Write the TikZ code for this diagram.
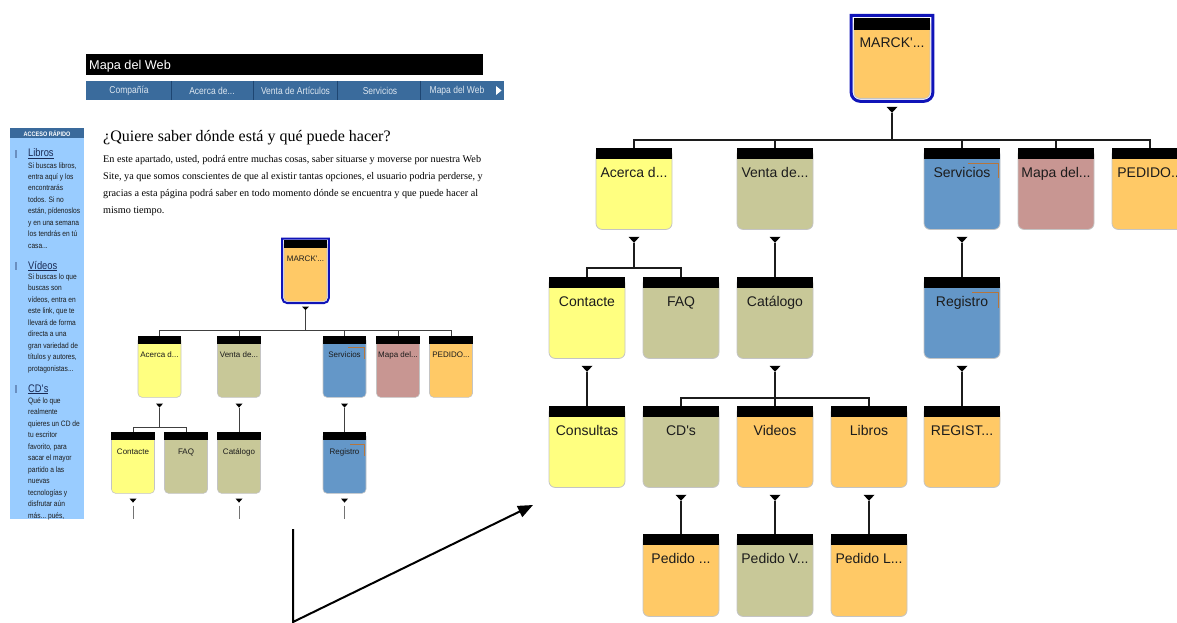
\documentclass[tikz,border=0pt]{standalone}
\usepackage{fontspec}
\setmainfont{Liberation Sans}
\newfontfamily\serifface{Liberation Serif}
\newfontfamily\narrowface[FakeStretch=0.85]{Liberation Sans}
\usetikzlibrary{calc,arrows.meta}

\definecolor{ink}{HTML}{1C1C1C}
\definecolor{boxEdge}{HTML}{C4C4C4}
\definecolor{cYellow}{HTML}{FFFF80}
\definecolor{cKhaki}{HTML}{C8C898}
\definecolor{cBlue}{HTML}{6497C8}
\definecolor{cRose}{HTML}{C89692}
\definecolor{cOrange}{HTML}{FFC966}
\definecolor{frameBlue}{HTML}{1014B8}
\definecolor{tagOrange}{HTML}{B5753C}
\definecolor{navBlue}{HTML}{3A6B9C}
\definecolor{navLine}{HTML}{1E4672}
\definecolor{navText}{HTML}{DCE6F0}
\definecolor{sideHead}{HTML}{3A6A9C}
\definecolor{sideBody}{HTML}{99CCFF}
\definecolor{sideMark}{HTML}{6A8FC0}
\definecolor{sideLink}{HTML}{1A2B55}

% three dots, kept out of the reach of \foreach's range syntax
\newcommand\threedots{...}

% black drop marker under a node; defines <node>-tip at its point
\newcommand\droptri[4]{% node, gap, half width, height
  \coordinate (#1-tip) at ($(#1.south)+(0,#2+#4)$);
  \fill[black] ($(#1.south)+(-#3,#2)$) -- ($(#1.south)+(#3,#2)$) -- (#1-tip) -- cycle;}

\begin{document}
\begin{tikzpicture}[x=1pt,y=-1pt,
  every node/.style={inner sep=0pt},
  big/.style={draw=boxEdge, line width=0.8pt, rounded corners=6pt,
    minimum width=76pt, anchor=north, font=\fontsize{14}{16}\selectfont,
    text=ink, text height=29pt, text depth=52pt},
  small/.style={draw=boxEdge, line width=0.6pt, rounded corners=4pt,
    minimum width=43pt, anchor=north, font=\fontsize{8}{9}\selectfont,
    text=ink, text height=21pt, text depth=40pt},
  bigwire/.style={draw=ink, line width=1.1pt},
  swire/.style={draw=black!75, line width=0.8pt},
  tag/.style={draw=tagOrange, line width=1pt},
  side/.style={anchor=base west, font=\narrowface\fontsize{7.8}{9}\selectfont, text=ink},
  sidehead/.style={anchor=base west, font=\narrowface\fontsize{11}{12}\selectfont, text=sideLink},
  para/.style={anchor=base west, font=\serifface\fontsize{10.2}{12}\selectfont, text=black},
  navitem/.style={font=\narrowface\fontsize{10}{11}\selectfont, text=navText}
]
\useasboundingbox (0,0) rectangle (1177,623);
\clip (0,0) rectangle (1177,623);

% ---------- page header and menu ----------
\fill[black] (86,54) rectangle (483,75);
\node[anchor=base west, font=\fontsize{12.7}{14}\selectfont, text=white] (title) at (89,70) {Mapa del Web};
\fill[navBlue] (86,81) rectangle (504,100);
\foreach \x in {171,253,337,420} \draw[navLine, line width=0.8pt] (\x,81) -- (\x,100);
\node[navitem] (nav-1) at (129,91) {Compañía};
\node[navitem] (nav-2) at (212,91) {Acerca de...};
\node[navitem] (nav-3) at (295.5,91) {Venta de Artículos};
\node[navitem] (nav-4) at (380,91) {Servicios};
\node[navitem] (nav-5) at (457,91) {Mapa del Web};
\fill[white] (496,86) -- (496,95) -- (501.5,90.5) -- cycle;

% ---------- quick access column ----------
\fill[sideBody] (10,138) rectangle (84,519);
\fill[sideHead] (10,128) rectangle (84,138);
\node[font=\narrowface\bfseries\fontsize{6.5}{7}\selectfont, text=white] (side-title) at (47,133.5) {ACCESO RÁPIDO};

\fill[sideMark] (15,150) rectangle (17,158);
\node[sidehead] (side-libros) at (28,157) {\underline{Libros}};
\foreach \t [count=\i] in {{Si buscas libros,},{entra aquí y los},{encontrarás},{todos. Si no},{están, pídenoslos},{y en una semana},{los tendrás en tú},{casa\threedots}}
  \node[side] (libros-\i) at (28,{168+11.45*(\i-1)}) {\t};

\fill[sideMark] (15,262) rectangle (17,270);
\node[sidehead] (side-videos) at (28,269) {\underline{Vídeos}};
\foreach \t [count=\i] in {{Si buscas lo que},{buscas son},{vídeos, entra en},{este link, que te},{llevará de forma},{directa a una},{gran variedad de},{títulos y autores,},{protagonistas\threedots}}
  \node[side] (videos-\i) at (28,{279.5+11.45*(\i-1)}) {\t};

\fill[sideMark] (15,385) rectangle (17,393);
\node[sidehead] (side-cds) at (28,392) {\underline{CD\textquotesingle s}};
\foreach \t [count=\i] in {{Qué lo que},{realmente},{quieres un CD de},{tu escritor},{favorito, para},{sacar el mayor},{partido a las},{nuevas},{tecnologías y},{disfrutar aún},{más\threedots\ pués,}}
  \node[side] (cds-\i) at (28,{403.5+11.45*(\i-1)}) {\t};

% ---------- introduction ----------
\node[anchor=base west, font=\serifface\fontsize{16}{18}\selectfont] (question) at (103,142) {¿Quiere saber dónde está y qué puede hacer?};
\node[para] (para-1) at (103,162) {En este apartado, usted, podrá entre muchas cosas, saber situarse y moverse por nuestra Web};
\node[para] (para-2) at (103,179) {Site, ya que somos conscientes de que al existir tantas opciones, el usuario podria perderse, y};
\node[para] (para-3) at (103,196) {gracias a esta página podrá saber en todo momento dónde se encuentra y que puede hacer al};
\node[para] (para-4) at (103,213) {mismo tiempo.};

% ---------- small site tree ----------
\node[small, fill=cOrange] (sroot) at (305.5,240) {MARCK\textquotesingle...};
\node[small, fill=cYellow] (s-acerca) at (159.5,336) {Acerca d...};
\node[small, fill=cKhaki] (s-venta) at (239,336) {Venta de...};
\node[small, fill=cBlue] (s-servicios) at (344.5,336) {Servicios};
\node[small, fill=cRose] (s-mapa) at (398,336) {Mapa del...};
\node[small, fill=cOrange] (s-pedido) at (451,336) {PEDIDO...};
\node[small, fill=cYellow, text height=22pt, text depth=39pt] (s-contacte) at (133,432) {Contacte};
\node[small, fill=cKhaki, text height=22pt, text depth=39pt] (s-faq) at (186,432) {FAQ};
\node[small, fill=cKhaki, text height=22pt, text depth=39pt] (s-catalogo) at (239,432) {Catálogo};
\node[small, fill=cBlue, text height=22pt, text depth=39pt] (s-registro) at (344.5,432) {Registro};
\foreach \n in {sroot,s-acerca,s-venta,s-servicios,s-mapa,s-pedido,s-contacte,s-faq,s-catalogo,s-registro}
  \fill[black] (\n.north west) rectangle ([yshift=-8pt]\n.north east);
\draw[frameBlue, line width=2pt]
  ($(sroot.south west)+(-1.5,1.5-5)$) -- ($(sroot.north west)+(-1.5,-1.5)$)
  -- ($(sroot.north east)+(1.5,-1.5)$) -- ($(sroot.south east)+(1.5,1.5-5)$)
  arc[start angle=0, end angle=90, radius=5]
  -- ($(sroot.south west)+(-1.5+5,1.5)$)
  arc[start angle=90, end angle=180, radius=5] -- cycle;
\draw[tag, line width=0.7pt] ($(s-servicios.north east)+(-18,11)$) -- ($(s-servicios.north east)+(-2,11)$) -- ($(s-servicios.north east)+(-2,23)$);
\draw[tag, line width=0.7pt] ($(s-registro.north east)+(-16,12)$) -- ($(s-registro.north east)+(-2,12)$) -- ($(s-registro.north east)+(-2,24)$);

\droptri{sroot}{5}{3.5}{3.5}
\foreach \n in {s-acerca,s-venta,s-servicios} {\droptri{\n}{6}{3.5}{4}}
\foreach \n in {s-contacte,s-catalogo,s-registro} {\droptri{\n}{5}{3.5}{4}}

\foreach \c in {s-acerca,s-venta,s-servicios,s-mapa,s-pedido}
  \draw[swire] (sroot-tip) |- ([yshift=6pt]\c.north) -- (\c.north);
\foreach \c in {s-contacte,s-faq}
  \draw[swire] (s-acerca-tip) |- ([yshift=5pt]\c.north) -- (\c.north);
\draw[swire] (s-venta-tip) -- (s-catalogo.north);
\draw[swire] (s-servicios-tip) -- (s-registro.north);
\foreach \n in {s-contacte,s-catalogo,s-registro} {
  \coordinate (\n-end) at ($(\n-tip)+(0,16)$);
  \draw[swire, draw=black!55] ($(\n-tip)+(0,3)$) -- (\n-end);
}

% ---------- large site tree ----------
\node[big, fill=cOrange, text height=29pt, text depth=51pt] (root) at (892,18) {MARCK\textquotesingle...};

\node[big, fill=cYellow] (acerca) at (634,148) {Acerca d...};
\node[big, fill=cKhaki] (venta) at (775,148) {Venta de...};
\node[big, fill=cBlue] (servicios) at (962,148) {Servicios};
\node[big, fill=cRose] (mapa) at (1056,148) {Mapa del...};
\node[big, fill=cOrange] (pedido) at (1150,148) {PEDIDO...};

\node[big, fill=cYellow] (contacte) at (587,277) {Contacte};
\node[big, fill=cKhaki] (faq) at (681,277) {FAQ};
\node[big, fill=cKhaki] (catalogo) at (775,277) {Catálogo};
\node[big, fill=cBlue] (registro) at (962,277) {Registro};

\node[big, fill=cYellow] (consultas) at (587,406) {Consultas};
\node[big, fill=cKhaki] (cds) at (681,406) {CD\textquotesingle s};
\node[big, fill=cOrange] (videos) at (775,406) {Videos};
\node[big, fill=cOrange] (libros) at (869,406) {Libros};
\node[big, fill=cOrange] (regist) at (962,406) {REGIST...};

\node[big, fill=cOrange, text depth=53pt] (pedidoc) at (681,534) {Pedido ...};
\node[big, fill=cKhaki, text depth=53pt] (pedidov) at (775,534) {Pedido V...};
\node[big, fill=cOrange, text depth=53pt] (pedidol) at (869,534) {Pedido L...};

\fill[black] (root.north west) rectangle ([yshift=-12pt]root.north east);
\foreach \n in {acerca,venta,servicios,mapa,pedido,contacte,faq,catalogo,registro,consultas,cds,videos,libros,regist,pedidoc,pedidov,pedidol}
  \fill[black] (\n.north west) rectangle ([yshift=-11pt]\n.north east);

\draw[frameBlue, line width=3pt]
  ($(root.south west)+(-2.5,2.5-9)$) -- ($(root.north west)+(-2.5,-2.5)$)
  -- ($(root.north east)+(2.5,-2.5)$) -- ($(root.south east)+(2.5,2.5-9)$)
  arc[start angle=0, end angle=90, radius=9]
  -- ($(root.south west)+(-2.5+9,2.5)$)
  arc[start angle=90, end angle=180, radius=9] -- cycle;

\draw[tag] ($(servicios.north east)+(-32,15)$) -- ($(servicios.north east)+(-2,15)$) -- ($(servicios.north east)+(-2,30)$);
\draw[tag] ($(registro.north east)+(-28,15)$) -- ($(registro.north east)+(-2,15)$) -- ($(registro.north east)+(-2,31)$);

\droptri{root}{8}{5.5}{6}
\foreach \n in {acerca,venta,servicios,contacte,catalogo,registro,cds,videos,libros} {\droptri{\n}{7}{5.5}{6}}

\foreach \c in {acerca,venta,servicios,mapa,pedido}
  \draw[bigwire] (root-tip) |- ([yshift=8pt]\c.north) -- (\c.north);
\foreach \c in {contacte,faq}
  \draw[bigwire] (acerca-tip) |- ([yshift=9pt]\c.north) -- (\c.north);
\draw[bigwire] (venta-tip) -- (catalogo.north);
\draw[bigwire] (servicios-tip) -- (registro.north);
\draw[bigwire] (contacte-tip) -- (consultas.north);
\foreach \c in {cds,videos,libros}
  \draw[bigwire] (catalogo-tip) |- ([yshift=8pt]\c.north) -- (\c.north);
\draw[bigwire] (registro-tip) -- (regist.north);
\draw[bigwire] (cds-tip) -- (pedidoc.north);
\draw[bigwire] (videos-tip) -- (pedidov.north);
\draw[bigwire] (libros-tip) -- (pedidol.north);

% ---------- zoom pointer ----------
\coordinate (arrow-top) at (293,529);
\coordinate (arrow-bend) at (293,622);
\coordinate (arrow-tip) at (533,505);
\draw[line width=2pt, -{Triangle[length=15pt,width=12pt]}] (arrow-top) -- (arrow-bend) -- (arrow-tip);
\end{tikzpicture}
\end{document}
